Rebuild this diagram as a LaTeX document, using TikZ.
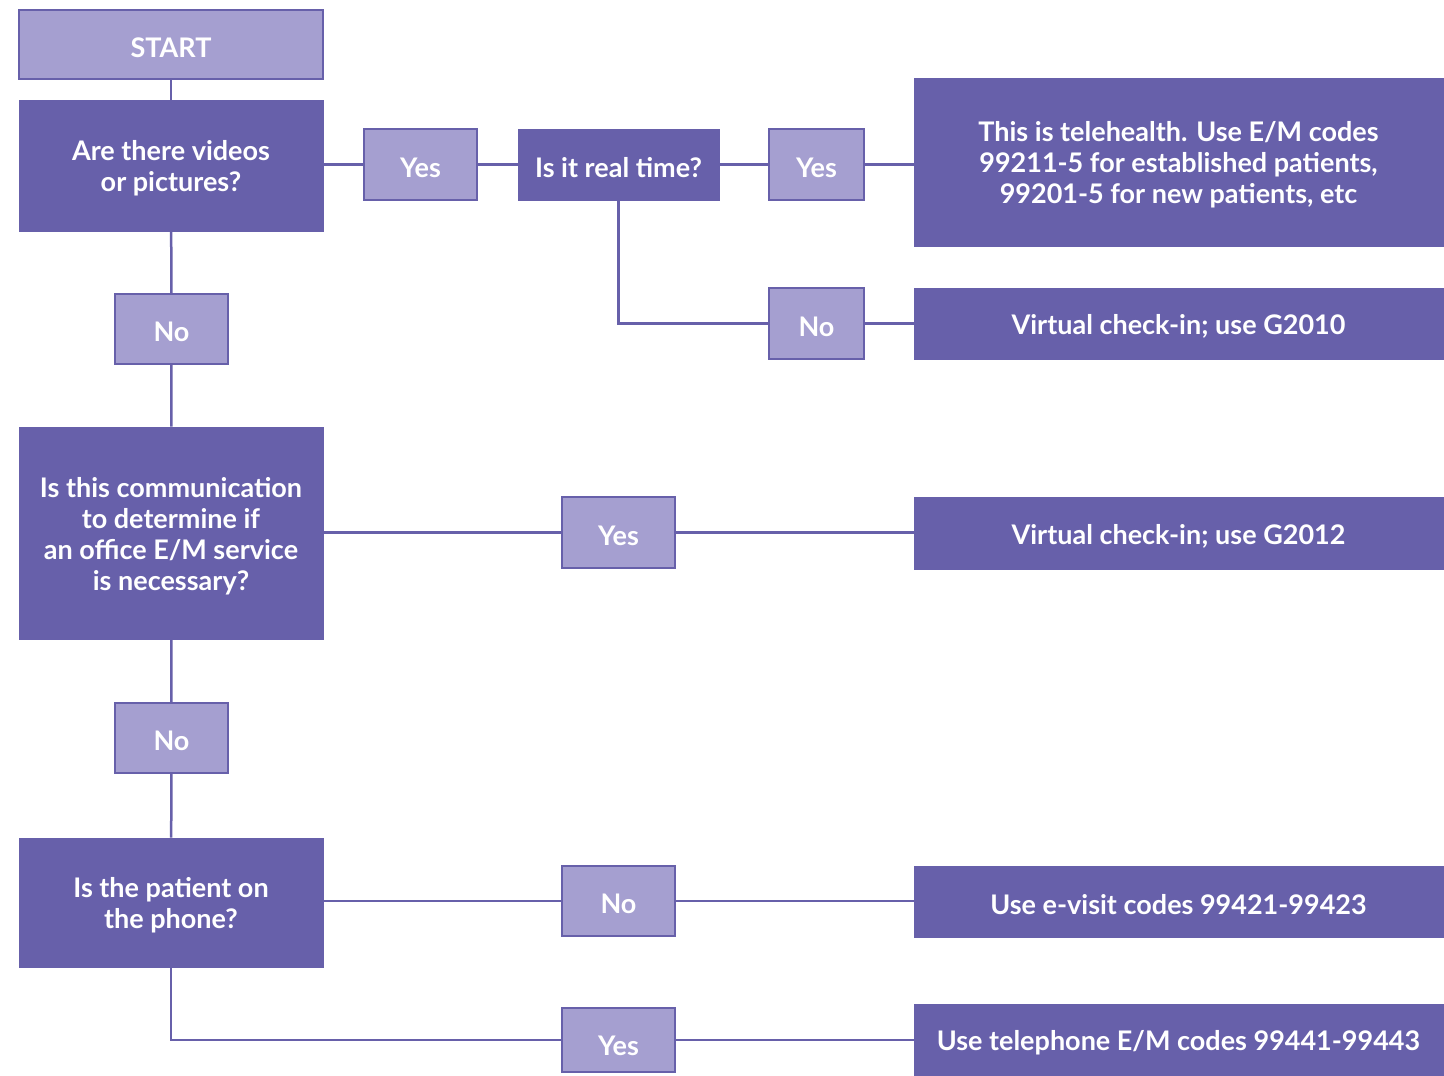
\documentclass[tikz,border=0pt]{standalone}
\usepackage{fontspec}
\setmainfont{Lato}
\definecolor{dk}{HTML}{6760AA}
\definecolor{lt}{HTML}{A59FD0}
\begin{document}
\begin{tikzpicture}[x=1pt,y=-1pt,
  base/.style={rectangle,inner sep=0pt},
  txt/.style={inner sep=0pt,text=white,align=center,font=\fontsize{27}{31}\selectfont\bfseries,yshift=-3pt},
  dbox/.style={base,fill=dk,draw=dk,line width=1pt},
  lbox/.style={base,fill=lt,draw=dk,line width=1.5pt},
  link/.style={draw=dk,line width=2.5pt}]
\useasboundingbox (0,0) rectangle (1444,1076);
\clip (0,0) rectangle (1444,1076);
\fill[white] (0,0) rectangle (1444,1076);
\newcommand\bx[7]{\node[#2,minimum width={#5-#3},minimum height={#6-#4}] (#1) at ({(#3+#5)/2},{(#4+#6)/2}) {};
  \node[txt] (#1-t) at (#1.center) {#7};}
\bx{start}{lbox}{19}{10}{323}{79}{START}
\bx{q1}{dbox}{19}{100}{323}{231}{Are there videos\\or pictures?}
\bx{y1}{lbox}{364}{129}{477}{200}{Yes}
\bx{rt}{dbox}{518}{129}{719}{200}{Is it real time?}
\bx{y2}{lbox}{769}{129}{864}{200}{Yes}
\bx{r1}{dbox}{914}{78}{1443}{246}{This is telehealth. Use E/M codes\\99211-5 for established patients,\\99201-5 for new patients, etc}
\bx{n0}{lbox}{769}{288}{864}{359}{No}
\bx{r2}{dbox}{914}{288}{1443}{359}{Virtual check-in; use G2010}
\bx{n1}{lbox}{115}{294}{228}{364}{No}
\bx{q2}{dbox}{19}{427}{323}{639}{Is this communication\\to determine if\\an office E/M service\\is necessary?}
\bx{y3}{lbox}{562}{497}{675}{568}{Yes}
\bx{r3}{dbox}{914}{497}{1443}{569}{Virtual check-in; use G2012}
\bx{n2}{lbox}{115}{703}{228}{773}{No}
\bx{q3}{dbox}{19}{838}{323}{967}{Is the patient on\\the phone?}
\bx{n3}{lbox}{562}{866}{675}{936}{No}
\bx{r4}{dbox}{914}{866}{1443}{937}{Use e-visit codes 99421-99423}
\node[lbox,minimum width=113,minimum height=64] (y4) at (618.5,1040) {};
\node[txt] (y4-t) at (618.5,1043) {Yes};
\bx{r5}{dbox}{914}{1004}{1443}{1076}{Use telephone E/M codes 99441-99443}
\draw[link] (start) -- (q1);
\draw[link] (q1.east |- y1) -- (y1);
\draw[link] (y1) -- (rt);
\draw[link] (rt) -- (y2);
\draw[link] (y2) -- (y2 -| r1.west);
\draw[link] (rt.south) |- (n0.west);
\draw[link] (n0) -- (r2);
\draw[link] (q1) -- (n1);
\draw[link] (n1) -- (q2);
\draw[link] (q2.east |- y3) -- (y3);
\draw[link] (y3) -- (r3.west |- y3);
\draw[link] (q2) -- (n2);
\draw[link] (n2) -- (q3);
\draw[link] (q3.east |- n3) -- (n3);
\draw[link] (n3) -- (r4.west |- n3);
\draw[link] (q3.south) |- (y4.west);
\draw[link] (y4) -- (r5);
\end{tikzpicture}
\end{document}
